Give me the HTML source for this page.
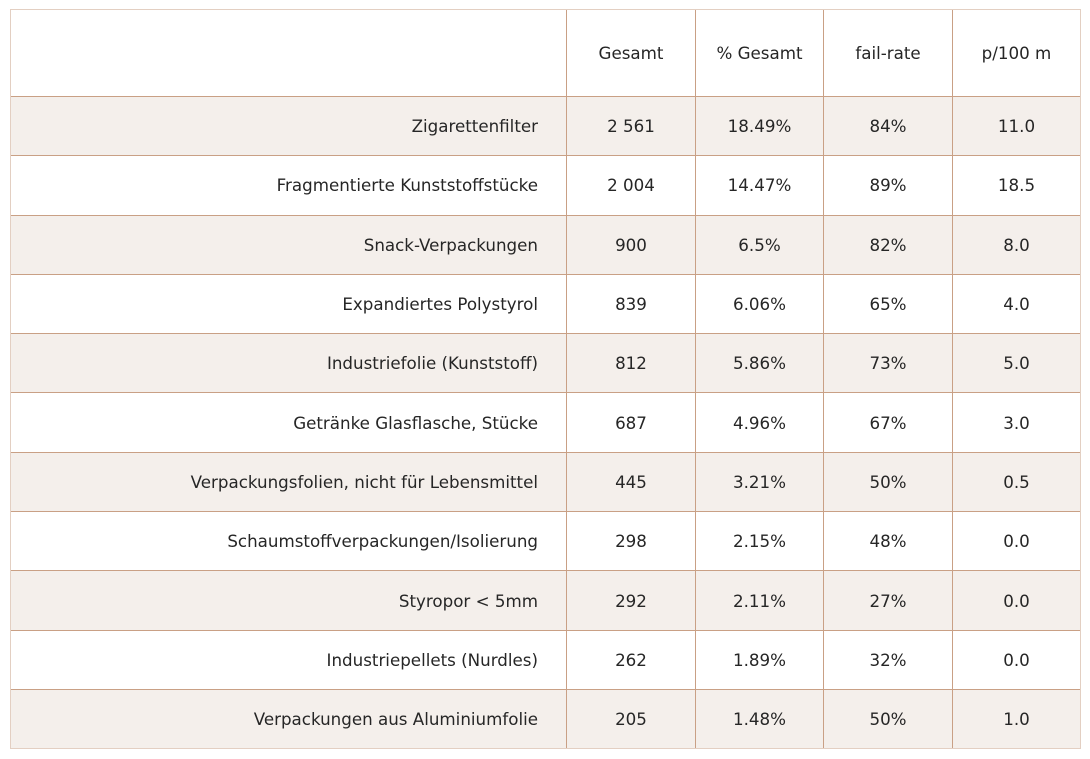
<!DOCTYPE html>
<html><head><meta charset="utf-8">
<style>
html,body{margin:0;padding:0;background:#fff;width:1090px;height:759px;overflow:hidden}
table{position:absolute;left:10px;top:9px;width:1070px;border-collapse:collapse;table-layout:fixed;
font-family:"DejaVu Sans","Liberation Sans",sans-serif;font-size:16.7px;color:#262626}
td,th{border:1px solid #c9a085;padding:0;text-align:center;font-weight:normal}
th{height:86px}
td{height:58.3px}
td.l{text-align:right;padding-right:28px}
tr.s td{background:#f4efeb}
table{outline:1px solid #e3cfc2;outline-offset:-1px}
</style></head><body>
<table>
<colgroup><col style="width:556px"><col style="width:129px"><col style="width:128px"><col style="width:129px"><col style="width:128px"></colgroup>
<thead><tr>
<th></th>
<th>Gesamt</th>
<th>% Gesamt</th>
<th>fail-rate</th>
<th>p/100 m</th>
</tr></thead>
<tbody>
<tr class="s"><td class="l">Zigarettenfilter</td><td>2 561</td><td>18.49%</td><td>84%</td><td>11.0</td></tr>
<tr><td class="l">Fragmentierte Kunststoffstücke</td><td>2 004</td><td>14.47%</td><td>89%</td><td>18.5</td></tr>
<tr class="s"><td class="l">Snack-Verpackungen</td><td>900</td><td>6.5%</td><td>82%</td><td>8.0</td></tr>
<tr><td class="l">Expandiertes Polystyrol</td><td>839</td><td>6.06%</td><td>65%</td><td>4.0</td></tr>
<tr class="s"><td class="l">Industriefolie (Kunststoff)</td><td>812</td><td>5.86%</td><td>73%</td><td>5.0</td></tr>
<tr><td class="l">Getränke Glasflasche, Stücke</td><td>687</td><td>4.96%</td><td>67%</td><td>3.0</td></tr>
<tr class="s"><td class="l">Verpackungsfolien, nicht für Lebensmittel</td><td>445</td><td>3.21%</td><td>50%</td><td>0.5</td></tr>
<tr><td class="l">Schaumstoffverpackungen/Isolierung</td><td>298</td><td>2.15%</td><td>48%</td><td>0.0</td></tr>
<tr class="s"><td class="l">Styropor &lt; 5mm</td><td>292</td><td>2.11%</td><td>27%</td><td>0.0</td></tr>
<tr><td class="l">Industriepellets (Nurdles)</td><td>262</td><td>1.89%</td><td>32%</td><td>0.0</td></tr>
<tr class="s"><td class="l">Verpackungen aus Aluminiumfolie</td><td>205</td><td>1.48%</td><td>50%</td><td>1.0</td></tr>
</tbody></table>
</body></html>
